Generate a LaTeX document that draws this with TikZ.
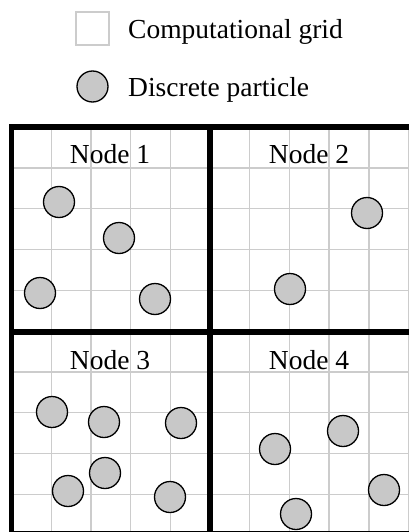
\documentclass[tikz,border=0pt]{standalone}
\usepackage{fontspec}
\setmainfont{Liberation Serif}
\definecolor{gridgray}{HTML}{CCCCCC}
\definecolor{partgray}{HTML}{C8C8C8}
\tikzset{
  particle/.style={circle, draw=black, fill=partgray, line width=1.3pt, minimum size=31pt, inner sep=0pt},
  gridline/.style={draw=gridgray, line width=1.4pt},
  border/.style={draw=black, line width=5.5pt},
  lbl/.style={font=\fontsize{27.5}{33}\selectfont, inner sep=0pt},
  legendbox/.style={draw=gridgray, line width=1.2pt, minimum size=33pt, inner sep=0pt}
}
\begin{document}
\begin{tikzpicture}[x=1pt,y=-1pt]
\useasboundingbox (0,0) rectangle (409,532);
\begin{scope}
\clip (0,0) rectangle (409,532);
% grid
\foreach \k in {0,...,10} {
  \draw[gridline] ({11.5+\k*39.7},127) -- ({11.5+\k*39.7},536);
  \draw[gridline] (11.5,{127+\k*40.8}) -- (412,{127+\k*40.8});
}
% thick partition
\draw[border] (11.5,127) rectangle (412,534);
\draw[border] (210,127) -- (210,534);
\draw[border] (11.5,332) -- (412,332);
% labels
\node[lbl, anchor=base] (n1) at (110,163) {Node 1};
\node[lbl, anchor=base] (n2) at (309,163) {Node 2};
\node[lbl, anchor=base] (n3) at (110,369) {Node 3};
\node[lbl, anchor=base] (n4) at (309,369) {Node 4};
% particles node 1
\node[particle] (p11) at (59,202) {};
\node[particle] (p12) at (119,238) {};
\node[particle] (p13) at (40,293) {};
\node[particle] (p14) at (155,299) {};
% node 2
\node[particle] (p21) at (367,213) {};
\node[particle] (p22) at (290,289) {};
% node 3
\node[particle] (p31) at (52,412) {};
\node[particle] (p32) at (104,422) {};
\node[particle] (p33) at (181,423) {};
\node[particle] (p34) at (105,473) {};
\node[particle] (p35) at (68,491) {};
\node[particle] (p36) at (170,497) {};
% node 4
\node[particle] (p41) at (343,431) {};
\node[particle] (p42) at (275,449) {};
\node[particle] (p43) at (384,490) {};
\node[particle] (p44) at (296,514) {};
\end{scope}
% legend
\node[legendbox] (lg) at (92.5,28.5) {};
\node[lbl, anchor=base west] (lgt) at (128,39) {Computational grid};
\node[particle] (lp) at (92.5,86.5) {};
\node[lbl, anchor=base west] (lpt) at (128,97) {Discrete particle};
\end{tikzpicture}
\end{document}
